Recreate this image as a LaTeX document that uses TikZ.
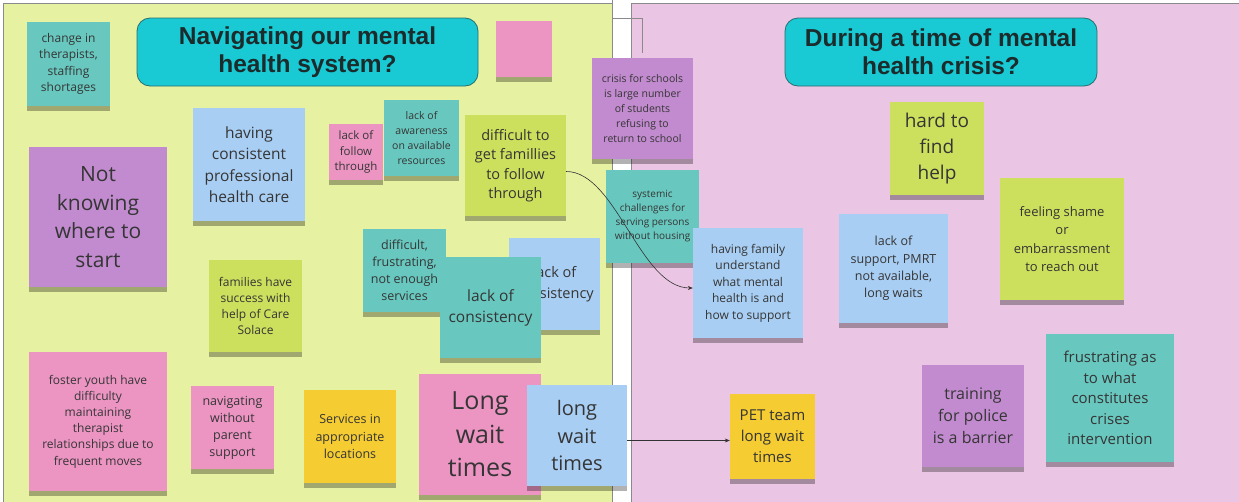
\documentclass[tikz,border=0pt]{standalone}
\usepackage{fontspec}
\setmainfont{Open Sans}
\newfontfamily\titlefont{Liberation Sans}
\usetikzlibrary{shadows,arrows.meta}
\definecolor{leftbg}{HTML}{E6F2A1}
\definecolor{rightbg}{HTML}{EBC6E4}
\definecolor{panelline}{HTML}{8A8A8A}
\definecolor{cteal}{HTML}{68C8BF}
\definecolor{cblue}{HTML}{A9CEF3}
\definecolor{cpink}{HTML}{EC95C3}
\definecolor{cpurple}{HTML}{C28BCF}
\definecolor{cgreen}{HTML}{CDE05D}
\definecolor{cyellow}{HTML}{F5CC32}
\definecolor{tfill}{HTML}{19C9D4}
\definecolor{tline}{HTML}{2A6E6E}
\definecolor{ntext}{HTML}{353535}
\definecolor{ttext}{HTML}{1C2B2B}
\newcommand\stick[9]{\node[note,fill=#2,minimum width={#5-#3},minimum height={#6-#4},font=\fontsize{#7}{#8}\selectfont] (#1) at ({(#3+#5)/2},{(#4+#6)/2}) {#9};}
\begin{document}
\begin{tikzpicture}[x=1pt,y=-1pt,
  note/.style={rectangle,inner sep=0pt,text=ntext,align=center,drop shadow={shadow xshift=0pt,shadow yshift=-4.5pt,opacity=.3,fill=black}},
  titlebox/.style={rectangle,rounded corners=13pt,fill=tfill,draw=tline,line width=0.8pt,text=ttext,align=center,font=\titlefont\bfseries\fontsize{24.5}{28}\selectfont},
  panel/.style={draw=panelline,line width=0.8pt},
  conn/.style={draw=black!80,line width=0.6pt,-{Stealth[length=5pt,width=4pt]}}]
\useasboundingbox (0,0) rectangle (1239,501);
\fill[white] (0,0) rectangle (1239,501);
\path[panel,fill=leftbg] (3,3) rectangle (612,510);
\path[panel,fill=rightbg] (631,3) rectangle (1250,510);
\draw[panelline,line width=0.8pt] (612,0) -- (612,18) -- (642,18) -- (642,53);
\node[titlebox,minimum width=341,minimum height=68] (t1) at (307.5,52) {Navigating our mental\\health system?};
\node[titlebox,minimum width=312,minimum height=68] (t2) at (941,52) {During a time of mental\\health crisis?};
\stick{chg}{cteal}{27}{22}{110}{106}{12}{16.3}{change in\\therapists,\\staffing\\shortages}
\stick{blank}{cpink}{496}{21}{552}{77}{12}{16}{}
\stick{cons}{cblue}{193}{108}{305}{221}{15.5}{21.5}{having\\consistent\\professional\\health care}
\stick{fol}{cpink}{329}{124}{383}{180}{11.5}{15.5}{lack of\\follow\\through}
\stick{awa}{cteal}{384}{100}{459}{176}{10.5}{14.7}{lack of\\awareness\\on available\\resources}
\stick{fam}{cgreen}{465}{115}{566}{216}{14.5}{19.5}{difficult to\\get famillies\\to follow\\through}
\stick{notk}{cpurple}{29}{147}{167}{287}{21}{28.5}{Not\\knowing\\where to\\start}
\stick{care}{cgreen}{209}{260}{302}{352}{12}{16.3}{families have\\success with\\help of Care\\Solace}
\stick{diff}{cteal}{363}{229}{446}{312}{12.5}{17}{difficult,\\frustrating,\\not enough\\services}
\stick{lcb}{cblue}{509}{238}{600}{330}{14.5}{21}{lack of\\consistency}
\stick{lct}{cteal}{440}{257}{541}{358}{15.5}{21}{lack of\\consistency}
\stick{fos}{cpink}{29}{352}{167}{491}{12}{16.2}{foster youth have\\difficulty\\maintaining\\therapist\\relationships due to\\frequent moves}
\stick{nav}{cpink}{191}{386}{274}{469}{12.5}{17}{navigating\\without\\parent\\support}
\stick{serv}{cyellow}{304}{390}{396}{483}{12.5}{17.5}{Services in\\appropriate\\locations}
\stick{lw1}{cpink}{419}{374}{541}{495}{25}{33.5}{Long\\wait\\times}
\stick{lw2}{cblue}{527}{385}{627}{486}{20}{27.5}{long\\wait\\times}
\stick{cri}{cpurple}{592}{58}{693}{159}{10.5}{15}{crisis for schools\\is large number\\of students\\refusing to\\return to school}
\stick{sys}{cteal}{606}{170}{699}{263}{10}{14}{systemic\\challenges for\\serving persons\\without housing}
\stick{hard}{cgreen}{890}{102}{984}{195}{19}{26}{hard to\\find\\help}
\stick{hfam}{cblue}{693}{228}{803}{338}{12}{16.5}{having family\\understand\\what mental\\health is and\\how to support}
\stick{lsup}{cblue}{839}{214}{948}{323}{12.5}{17.3}{lack of\\support, PMRT\\not available,\\long waits}
\stick{sham}{cgreen}{1000}{178}{1124}{300}{13}{18.3}{feeling shame\\or\\embarrassment\\to reach out}
\stick{fru}{cteal}{1046}{334}{1174}{462}{15}{20.5}{frustrating as\\to what\\constitutes\\crises\\intervention}
\stick{trn}{cpurple}{922}{365}{1024}{467}{16}{22}{training\\for police\\is a barrier}
\stick{pet}{cyellow}{730}{394}{815}{479}{15}{21}{PET team\\long wait\\times}
\draw[conn] ([yshift=-6pt]fam.east) .. controls +(50,0) and +(-53,0) .. ([yshift=-5pt]hfam.west);
\draw[conn] ([yshift=-5pt]lw2.east) -- ([yshift=-4pt]pet.west);
\end{tikzpicture}
\end{document}
